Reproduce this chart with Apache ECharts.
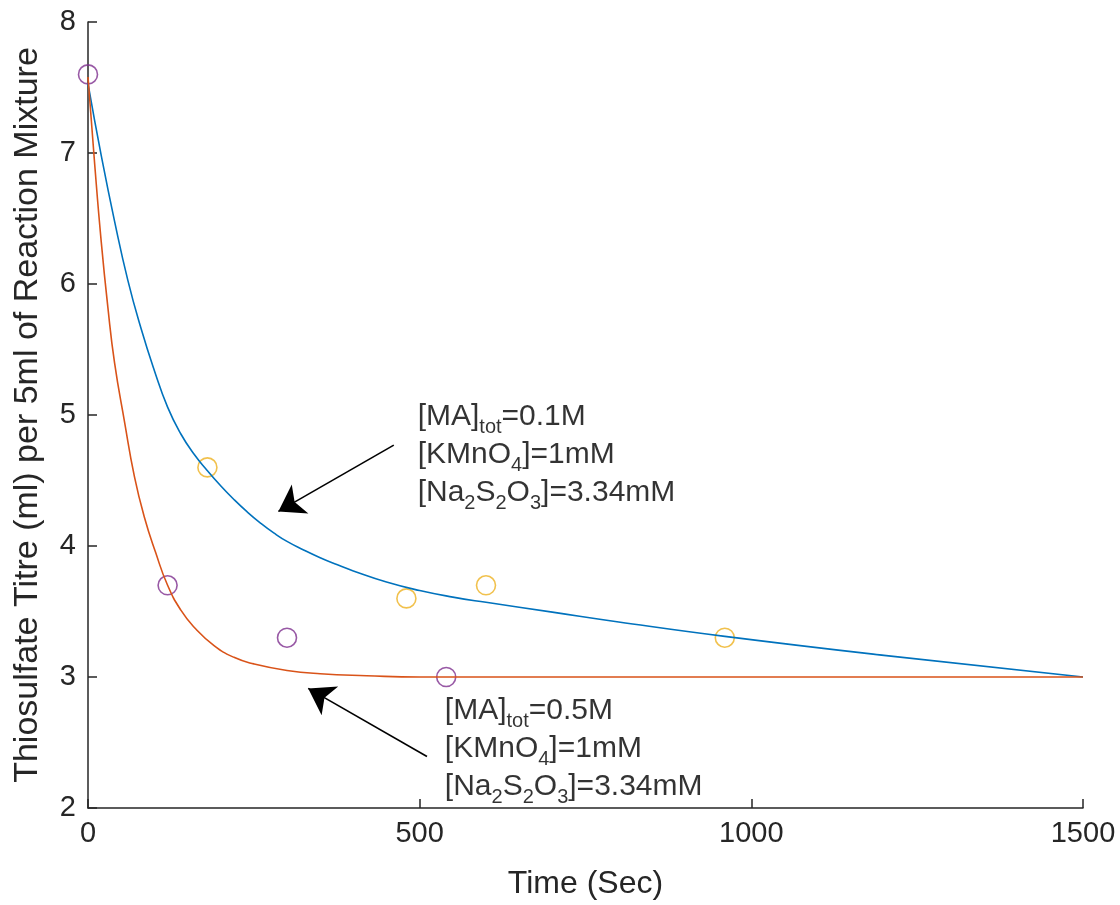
<!DOCTYPE html>
<html>
<head>
<meta charset="utf-8">
<script src="https://cdn.jsdelivr.net/npm/echarts@6/dist/echarts.min.js"></script>
<style>
  html, body { margin: 0; padding: 0; background: #ffffff; }
  #chart { width: 1120px; height: 905px; }
</style>
</head>
<body>
<div id="chart"></div>
<script>
// Titration data: thiosulfate titre vs. time for two methanol (MA) concentrations
const xTicks = [0, 500, 1000, 1500];
const yTicks = [2, 3, 4, 5, 6, 7, 8];

// measured points
const ptsLowMA = [[180, 4.6], [480, 3.6], [600, 3.7], [960, 3.3]];   // [MA]tot = 0.1 M
const ptsHighMA = [[0, 7.6], [120, 3.7], [300, 3.3], [540, 3.0]];   // [MA]tot = 0.5 M

// fitted curves
const fitLowMA = [
  [0, 7.53], [20, 6.98], [40, 6.48], [60, 6.03], [80, 5.66], [100, 5.34],
  [120, 5.06], [140, 4.855], [160, 4.70], [180, 4.575], [200, 4.46], [220, 4.355],
  [240, 4.26], [260, 4.175], [280, 4.10], [300, 4.035], [325, 3.97], [350, 3.91],
  [375, 3.858], [400, 3.81], [450, 3.725], [500, 3.66], [550, 3.61], [600, 3.57],
  [700, 3.495], [800, 3.42], [960, 3.31], [1200, 3.165], [1500, 3.0]
];
const fitHighMA = [
  [0, 7.58], [10, 6.92], [20, 6.32], [30, 5.82], [40, 5.40], [55, 4.95],
  [70, 4.53], [85, 4.22], [102, 3.95], [120, 3.70], [140, 3.51], [160, 3.38],
  [190, 3.24], [220, 3.15], [250, 3.10], [300, 3.05], [350, 3.025], [420, 3.01],
  [500, 3.0], [1500, 3.0]
];

// annotation anchors (data coordinates, top-left of text) and arrows [tail, tip]
const noteLowMA = [497, 5.13];
const noteHighMA = [538, 2.886];
const arrowLowMA = [[461, 4.77], [287, 4.264]];
const arrowHighMA = [[511, 2.393], [332, 2.913]];

const axisColor = '#262626';
const font = '"Liberation Sans", Arial, Helvetica, sans-serif';

const richText = {
  m: { fontFamily: font, fontSize: 30, lineHeight: 38, color: '#000000' },
  s: { fontFamily: font, fontSize: 20, lineHeight: 38, height: 16, verticalAlign: 'bottom', color: '#000000' }
};

function noteSeries(pos, maText) {
  return {
    type: 'scatter',
    data: [pos],
    symbolSize: 0,
    silent: true,
    clip: false,
    label: {
      show: true,
      position: [0, 0],
      align: 'left',
      verticalAlign: 'top',
      color: '#000000',
      formatter: '{m|[MA]}{s|tot}{m|=' + maText + '}\n{m|[KMnO}{s|4}{m|]=1mM}\n{m|[Na}{s|2}{m|S}{s|2}{m|O}{s|3}{m|]=3.34mM}',
      rich: richText
    }
  };
}

function arrowSeries(coords) {
  return {
    type: 'lines',
    coordinateSystem: 'cartesian2d',
    silent: true,
    symbol: ['none', 'arrow'],
    symbolSize: [15, 25],
    lineStyle: { color: '#000', width: 1.6, opacity: 1 },
    data: [{ coords: coords }]
  };
}

const chart = echarts.init(document.getElementById('chart'));
chart.setOption({
  animation: false,
  backgroundColor: '#ffffff',
  grid: { left: 88, right: 37, top: 22, bottom: 94, containLabel: false },
  xAxis: {
    type: 'value',
    min: 0, max: 1500, interval: 500,
    name: 'Time (Sec)',
    nameLocation: 'middle',
    nameGap: 60,
    nameTextStyle: { fontFamily: font, fontSize: 32, color: axisColor },
    axisLine: { show: true, onZero: false, lineStyle: { color: axisColor, width: 1.5 } },
    axisTick: { show: true, inside: true, length: 9, lineStyle: { color: axisColor, width: 1.5 } },
    axisLabel: {
      fontFamily: font, fontSize: 29, color: axisColor, margin: 11,
      formatter: v => xTicks.includes(v) ? String(v) : ''
    },
    splitLine: { show: false }
  },
  yAxis: {
    type: 'value',
    min: 2, max: 8, interval: 1,
    name: 'Thiosulfate Titre (ml) per 5ml of Reaction Mixture',
    nameLocation: 'middle',
    nameGap: 43,
    nameTextStyle: { fontFamily: font, fontSize: 34, color: axisColor },
    axisLine: { show: true, onZero: false, lineStyle: { color: axisColor, width: 1.5 } },
    axisTick: { show: true, inside: true, length: 9, lineStyle: { color: axisColor, width: 1.5 } },
    axisLabel: {
      fontFamily: font, fontSize: 29, color: axisColor, margin: 12,
      formatter: v => yTicks.includes(v) ? String(v) : ''
    },
    splitLine: { show: false }
  },
  series: [
    {
      type: 'line', data: fitLowMA, showSymbol: false, smooth: 0.5,
      lineStyle: { color: '#0072BD', width: 1.6 }, silent: true
    },
    {
      type: 'line', data: fitHighMA, showSymbol: false, smooth: 0.5,
      lineStyle: { color: '#D95319', width: 1.6 }, silent: true
    },
    {
      type: 'scatter', data: ptsHighMA, symbol: 'circle', symbolSize: 19, clip: false,
      itemStyle: { color: 'rgba(0,0,0,0)', borderColor: '#7E2F8E', borderWidth: 1.6 }
    },
    {
      type: 'scatter', data: ptsLowMA, symbol: 'circle', symbolSize: 19, clip: false,
      itemStyle: { color: 'rgba(0,0,0,0)', borderColor: '#EDB120', borderWidth: 1.6 }
    },
    arrowSeries(arrowLowMA),
    arrowSeries(arrowHighMA),
    noteSeries(noteLowMA, '0.1M'),
    noteSeries(noteHighMA, '0.5M')
  ]
});
</script>
</body>
</html>
